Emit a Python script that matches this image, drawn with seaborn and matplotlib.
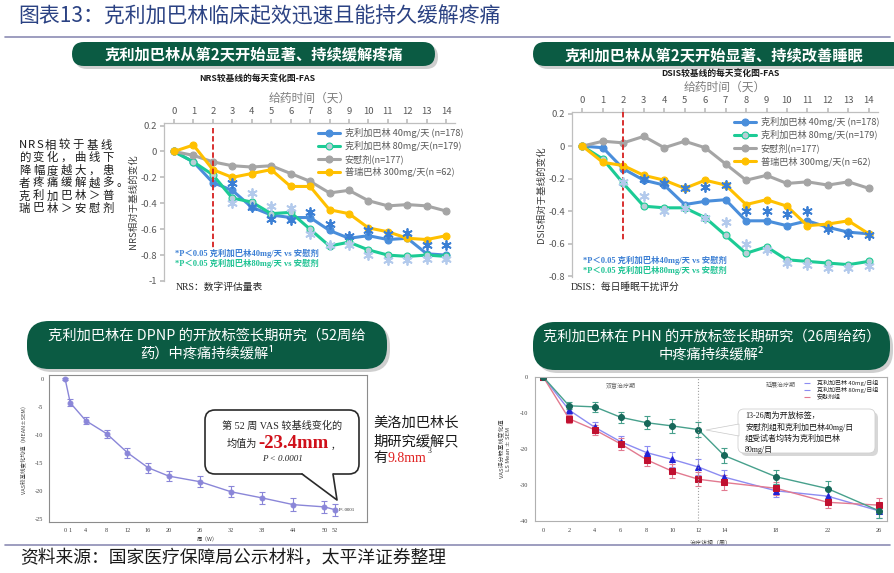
import matplotlib
matplotlib.use("Agg")
import matplotlib.pyplot as plt
from matplotlib.patches import FancyBboxPatch, Polygon
import pandas as pd
import seaborn as sns

# ---- 数据 ----
DAYS = list(range(15))
GROUPS = ["克利加巴林 40mg/天 (n=178)", "克利加巴林 80mg/天(n=179)",
          "安慰剂(n=177)", "普瑞巴林 300mg/天(n =62)"]

# NRS 较基线每天变化
NRS_40 = [0, -0.08, -0.24, -0.30, -0.43, -0.49, -0.51, -0.51, -0.61, -0.67, -0.65, -0.68, -0.67, -0.79, -0.80]
NRS_80 = [0, -0.08, -0.18, -0.36, -0.39, -0.48, -0.47, -0.60, -0.73, -0.70, -0.76, -0.80, -0.81, -0.80, -0.81]
NRS_PBO = [0, -0.03, -0.08, -0.11, -0.12, -0.11, -0.17, -0.23, -0.32, -0.30, -0.38, -0.42, -0.41, -0.42, -0.46]
NRS_PGB = [0, 0.05, -0.14, -0.20, -0.17, -0.14, -0.27, -0.27, -0.45, -0.48, -0.59, -0.62, -0.67, -0.68, -0.65]
NRS_STAR40_DAYS = [3, 4, 5, 6, 7, 8, 9, 10, 11, 12, 13, 14]
NRS_STAR40 = [-0.24, -0.43, -0.52, -0.53, -0.47, -0.56, -0.65, -0.61, -0.64, -0.63, -0.72, -0.72]
NRS_STAR80_DAYS = [3, 4, 5, 6, 7, 8, 9, 10, 11, 12, 13, 14]
NRS_STAR80 = [-0.40, -0.32, -0.42, -0.44, -0.64, -0.72, -0.72, -0.80, -0.84, -0.84, -0.83, -0.83]

# DSIS 较基线每天变化
DSIS_40 = [0, -0.01, -0.14, -0.21, -0.24, -0.36, -0.34, -0.33, -0.46, -0.46, -0.49, -0.46, -0.50, -0.53, -0.54]
DSIS_80 = [0, -0.08, -0.23, -0.37, -0.38, -0.38, -0.44, -0.55, -0.66, -0.62, -0.70, -0.71, -0.72, -0.73, -0.71]
DSIS_PBO = [0, 0.03, 0.02, 0.06, -0.01, 0.03, -0.01, -0.11, -0.21, -0.18, -0.23, -0.22, -0.24, -0.22, -0.26]
DSIS_PGB = [0, -0.10, -0.12, -0.18, -0.21, -0.26, -0.21, -0.24, -0.36, -0.33, -0.37, -0.49, -0.48, -0.46, -0.54]
DSIS_STAR40_DAYS = [3, 4, 5, 6, 7, 8, 9, 10, 11, 12, 13, 14]
DSIS_STAR40 = [-0.20, -0.23, -0.26, -0.25, -0.24, -0.40, -0.40, -0.42, -0.40, -0.51, -0.54, -0.55]
DSIS_STAR80_DAYS = [2, 3, 4, 5, 6, 7, 8, 9, 10, 11, 12, 13, 14]
DSIS_STAR80 = [-0.22, -0.31, -0.40, -0.38, -0.44, -0.47, -0.60, -0.64, -0.72, -0.73, -0.75, -0.75, -0.74]

# DPNP 52周开放标签
DPNP_WEEKS = [0, 1, 4, 8, 12, 16, 20, 26, 32, 38, 44, 50, 52]
DPNP_VAS = [0, -4.3, -7.5, -9.8, -13.2, -15.9, -17.4, -18.4, -20.2, -21.3, -22.5, -22.9, -23.4]
DPNP_SEM = [0.2, 0.6, 0.6, 0.7, 0.9, 0.9, 0.9, 1.0, 1.0, 1.0, 1.1, 1.1, 1.1]

# PHN 26周开放标签
PHN_WEEKS = [0, 2, 4, 6, 8, 10, 12, 14, 18, 22, 26]
PHN_40 = [0, -9.2, -14.0, -18.0, -21.0, -22.9, -25.0, -27.8, -31.6, -33.1, -37.2]
PHN_40_SEM = [0, 1.2, 1.5, 1.5, 1.8, 2.0, 2.2, 2.0, 1.8, 2.0, 2.0]
PHN_80 = [0, -11.6, -14.7, -18.6, -23.0, -26.2, -28.4, -29.3, -30.9, -34.8, -35.6]
PHN_80_SEM = [0, 1.1, 1.4, 1.6, 1.8, 1.9, 2.0, 2.0, 1.8, 1.7, 2.0]
PHN_PBO = [0, -8.0, -8.3, -11.2, -12.7, -13.6, -14.6, -21.8, -27.7, -31.0, -37.2]
PHN_PBO_SEM = [0, 1.0, 1.3, 1.6, 1.8, 1.9, 2.0, 2.2, 2.0, 2.0, 2.0]
PHN_GROUPS = ["克利加巴林 40mg/日组", "克利加巴林 80mg/日组", "安慰剂组"]

PALETTE = ["#4a8edb", "#1ccb95", "#a5a5a5", "#ffc000"]
CJK = ["Noto Sans CJK SC", "DejaVu Sans"]
SERIF = ["Liberation Serif", "Noto Sans CJK SC", "DejaVu Sans"]
GREEN = "#0b5b43"

W, H = 895, 573


def rect(l, t, r, b):
    return [l / W, 1 - b / H, (r - l) / W, (b - t) / H]


def daily_panel(ax, series, s40d, s40, s80d, s80, vspan, ylim, yticks, ylabel):
    df = pd.DataFrame({
        "day": DAYS * 4,
        "value": sum(series, []),
        "group": [g for g in GROUPS for _ in DAYS],
    })
    sns.lineplot(data=df, x="day", y="value", hue="group", hue_order=GROUPS,
                 palette=PALETTE, marker="o", markersize=5, linewidth=2.2,
                 legend=False, ax=ax)
    for ln in ax.lines[:4]:
        ln.set_markeredgecolor(ln.get_color())
        ln.set_markeredgewidth(0.8)
    ax.lines[1].set_markerfacecolor("#b8cfd6")
    ax.legend(ax.lines[:4], GROUPS, loc="upper left", bbox_to_anchor=(0.53, 0.97),
              frameon=False, fontsize=6.6, labelcolor="#595959", handlelength=2.4,
              labelspacing=0.35, borderaxespad=0, borderpad=0, handletextpad=0.5)
    ax.plot([2, 2], vspan, color="#d62020", ls=(0, (3, 1.5)), lw=1.3, zorder=5)
    ax.scatter(s40d, s40, marker=(6, 2, 0), s=42, color="#3b7fd4", linewidths=1.3, zorder=6)
    ax.scatter(s80d, s80, marker=(6, 2, 0), s=42, color="#b3caec", linewidths=1.3, zorder=6)
    ax.set_xlim(-0.51, 14.45)
    ax.set_ylim(*ylim)
    ax.set_xticks(DAYS)
    ax.set_yticks(yticks)
    ax.set_yticklabels([("%g" % v) for v in yticks])
    ax.xaxis.tick_top()
    ax.xaxis.set_label_position("top")
    ax.set_xlabel("给药时间（天）", fontsize=8.5, color="#7f7f7f", labelpad=4)
    ax.set_ylabel(ylabel, fontsize=6.8, color="#404040", labelpad=2)
    for s in ["right", "bottom"]:
        ax.spines[s].set_visible(False)
    for s in ["top", "left"]:
        ax.spines[s].set_color("#bfbfbf")
        ax.spines[s].set_linewidth(0.9)
    ax.tick_params(axis="x", top=True, bottom=False, length=3, color="#bfbfbf",
                   labelsize=6.8, labelcolor="#595959", pad=2)
    ax.tick_params(axis="y", left=True, length=3, color="#bfbfbf",
                   labelsize=6.8, labelcolor="#595959", pad=2)


sns.set_theme(style="white")
plt.rcParams["font.family"] = CJK
plt.rcParams["axes.unicode_minus"] = False

fig = plt.figure(figsize=(8.95, 5.73), dpi=100)

# ---- 图1：NRS ----
ax1 = fig.add_axes(rect(164, 123, 455, 281))
daily_panel(ax1, [NRS_40, NRS_80, NRS_PBO, NRS_PGB], NRS_STAR40_DAYS, NRS_STAR40,
            NRS_STAR80_DAYS, NRS_STAR80, [0.18, -0.75], (-1.0, 0.22),
            [0.2, 0, -0.2, -0.4, -0.6, -0.8, -1.0], "NRS相对于基线的变化")

# ---- 图2：DSIS ----
ax2 = fig.add_axes(rect(572, 112, 878, 277))
daily_panel(ax2, [DSIS_40, DSIS_80, DSIS_PBO, DSIS_PGB], DSIS_STAR40_DAYS, DSIS_STAR40,
            DSIS_STAR80_DAYS, DSIS_STAR80, [0.21, -0.58], (-0.806, 0.21),
            [0.2, 0, -0.2, -0.4, -0.6, -0.8], "DSIS相对于基线的变化")

# ---- 图3：DPNP 52周 ----
ax3 = fig.add_axes(rect(49, 375, 367, 522))
c3 = "#8a86d8"
ax3.errorbar(DPNP_WEEKS, DPNP_VAS, yerr=DPNP_SEM, fmt="none", ecolor=c3,
             elinewidth=0.8, capsize=2, capthick=0.8)
sns.lineplot(x=DPNP_WEEKS, y=DPNP_VAS, color=c3, marker="o", markersize=3.5,
             markeredgecolor=c3, linewidth=1, ax=ax3)
ax3.annotate("P<.0001", (DPNP_WEEKS[-1], DPNP_VAS[-1]), xytext=(3, 0),
             textcoords="offset points", fontsize=3.5, family=SERIF, va="center")
ax3.set_xlim(-3.1, 58.2)
ax3.set_ylim(-25.6, 0.67)
ax3.set_xticks(DPNP_WEEKS)
ax3.set_yticks([0, -5, -10, -15, -20, -25])
ax3.set_yticklabels(["0", "-5", "-10", "-15", "-20", "-25"])
ax3.set_xlabel("周（W）", fontsize=4, color="#404040", labelpad=3)
ax3.set_ylabel("VAS较基线变化均值（MEAN±SEM）", fontsize=4, color="#404040", labelpad=6)
for s in ax3.spines.values():
    s.set_color("#8c8c8c")
    s.set_linewidth(0.8)
ax3.tick_params(length=2, color="#8c8c8c", labelsize=4.5, labelcolor="#404040", pad=2)
for t in ax3.get_xticklabels() + ax3.get_yticklabels():
    t.set_family(SERIF)

# ---- 图4：PHN 26周 ----
ax4 = fig.add_axes(rect(535, 377, 887, 521))
phn = [
    (PHN_40, PHN_40_SEM, "#8c8cf2", "#2323d6", "^"),
    (PHN_80, PHN_80_SEM, "#e27a90", "#c01030", "s"),
    (PHN_PBO, PHN_PBO_SEM, "#47a08c", "#17685a", "o"),
]
for vals, sem, lc, mc, mk in phn:
    ax4.errorbar(PHN_WEEKS, vals, yerr=sem, fmt="none", ecolor=lc,
                 elinewidth=0.8, capsize=2, capthick=0.8)
for vals, sem, lc, mc, mk in phn:
    sns.lineplot(x=PHN_WEEKS, y=vals, color=lc, marker=mk, markersize=4.3,
                 markerfacecolor=mc, markeredgecolor=mc, linewidth=1, ax=ax4)
ax4.axvline(12, color="#a0a0a0", ls=":", lw=0.8)
ax4.legend(ax4.lines[:3], PHN_GROUPS, loc="upper left", bbox_to_anchor=(0.755, 0.98),
           frameon=False, fontsize=4.3, handlelength=2.2, labelspacing=0.15,
           borderaxespad=0, borderpad=0, handletextpad=0.5)
ax4.text(6, -3, "双盲治疗期", fontsize=4.3, color="#606060", ha="center", style="italic")
ax4.text(18.4, -3, "延展治疗期", fontsize=4.3, color="#606060", ha="center", style="italic")
ax4.set_xlim(-0.64, 26.6)
ax4.set_ylim(-40, 0)
ax4.set_xticks(PHN_WEEKS)
ax4.set_yticks([0, -10, -20, -30, -40])
ax4.set_yticklabels(["0", "-10", "-20", "-30", "-40"])
ax4.set_xlabel("治疗访视（周）", fontsize=4.3, color="#404040", labelpad=5)
ax4.set_ylabel("VAS评分较基线变化值\nLS Mean ± SEM", fontsize=4.3, color="#404040", labelpad=6)
for s in ax4.spines.values():
    s.set_color("#b0b0b0")
    s.set_linewidth(0.8)
ax4.tick_params(length=2, color="#909090", labelsize=4.5, labelcolor="#404040", pad=3)
for t in ax4.get_xticklabels() + ax4.get_yticklabels():
    t.set_family(SERIF)

# ---- 叠加层：标题、横幅、注释 ----
ov = fig.add_axes([0, 0, 1, 1])
ov.set_xlim(0, W)
ov.set_ylim(H, 0)
ov.axis("off")

ov.text(18, 16, "图表13：克利加巴林临床起效迅速且能持久缓解疼痛", fontsize=15,
        color="#2b4283", va="center")
ov.plot([5, 890], [37, 37], color="#8c8cb4", lw=1.2)
ov.plot([5, 890], [545, 545], color="#8c8cb4", lw=1.2)
ov.text(20, 558, "资料来源：国家医疗保障局公示材料，太平洋证券整理", fontsize=12.8,
        color="#1a1a1a", va="center")


def banner(l, t, r, b, rad, lines, size, weight, ys):
    ov.add_patch(FancyBboxPatch((l + 3, t + 3), r - l, b - t,
                                boxstyle="round,pad=0,rounding_size=%d" % rad,
                                fc="#a8a8a8", ec="none", alpha=0.55))
    ov.add_patch(FancyBboxPatch((l, t), r - l, b - t,
                                boxstyle="round,pad=0,rounding_size=%d" % rad,
                                fc=GREEN, ec="none"))
    cx = (l + min(r, W)) / 2
    for txt, y in zip(lines, ys):
        ov.text(cx, y, txt, color="white", fontsize=size, fontweight=weight,
                ha="center", va="center")


banner(72, 42, 435, 66, 12, ["克利加巴林从第2天开始显著、持续缓解疼痛"], 11, "bold", [54])
banner(533, 42, 905, 66, 12, ["克利加巴林从第2天开始显著、持续改善睡眠"], 11, "bold", [55])
banner(27, 321, 387, 369, 22, ["克利加巴林在 DPNP 的开放标签长期研究（52周给",
                               "药）中疼痛持续缓解¹"], 10.3, "normal", [336, 353])
banner(533, 322, 890, 370, 22, ["克利加巴林在 PHN 的开放标签长期研究（26周给药）",
                                "中疼痛持续缓解²"], 10.3, "normal", [337, 354])

# 小标题
ov.text(257, 78, "NRS较基线的每天变化图-FAS", fontsize=6.3, fontweight="bold",
        ha="center", va="center", color="#1a1a1a")
ov.text(720, 73, "DSIS较基线的每天变化图-FAS", fontsize=6.3, fontweight="bold",
        ha="center", va="center", color="#1a1a1a")

# 显著性说明
ov.text(175, 253, "*P＜0.05 克利加巴林40mg/天 vs 安慰剂", fontsize=6, fontweight="bold",
        color="#3b7fd4", family=SERIF, va="center")
ov.text(175, 263, "*P＜0.05 克利加巴林80mg/天 vs 安慰剂", fontsize=6, fontweight="bold",
        color="#1fc394", family=SERIF, va="center")
ov.text(583, 260, "*P＜0.05 克利加巴林40mg/天 vs 安慰剂", fontsize=6, fontweight="bold",
        color="#3b7fd4", family=SERIF, va="center")
ov.text(583, 270, "*P＜0.05 克利加巴林80mg/天 vs 安慰剂", fontsize=6, fontweight="bold",
        color="#1fc394", family=SERIF, va="center")
ov.text(176, 287, "NRS：数字评估量表", fontsize=7, family=SERIF, va="center")
ov.text(571, 287, "DSIS：每日睡眠干扰评分", fontsize=7, family=SERIF, va="center")

# 左侧说明（字间距较宽，逐字排布）
left_lines = ["NRS相较于基线", "的变化，曲线下", "降幅度越大，患",
              "者疼痛缓解越多。", "克利加巴林＞普", "瑞巴林＞安慰剂"]
for i, txt in enumerate(left_lines):
    x = 19
    for ch in txt:
        ov.text(x, 145 + i * 12.7, ch, fontsize=8.2, va="center", color="#1a1a1a")
        x += 8.6 if ch.isascii() else 13.9

# 图3 气泡框
ov.add_patch(FancyBboxPatch((205, 410), 154, 64, boxstyle="round,pad=0,rounding_size=10",
                            fc="white", ec="#2a2a2a", lw=1.2, zorder=5))
ov.add_patch(Polygon([(302, 473), (333, 473), (337, 500)], closed=True,
                     fc="white", ec="none", zorder=6))
ov.plot([302, 337, 333], [474, 500, 474], color="#2a2a2a", lw=1.2, zorder=7)
ov.text(282, 426, "第 52 周 VAS 较基线变化的", fontsize=7.3, family=SERIF,
        ha="center", va="center", zorder=8)
ov.text(257, 444, "均值为", fontsize=7.3, ha="right", va="center", zorder=8)
ov.text(258, 443, "-23.4mm", fontsize=13.5, family=SERIF, fontweight="bold",
        color="#d0101a", ha="left", va="center", zorder=8)
ov.text(331, 446, "，", fontsize=7, ha="left", va="center", zorder=8)
ov.text(282, 459, "P < 0.0001", fontsize=6.5, family=SERIF, style="italic",
        ha="center", va="center", zorder=8)

# 图3 右侧说明
ov.text(373, 423, "美洛加巴林长", fontsize=10.3, va="center", color="#1a1a1a")
ov.text(373, 441, "期研究缓解只", fontsize=10.3, va="center", color="#1a1a1a")
ov.text(373, 458, "有", fontsize=10.3, va="center", color="#1a1a1a")
ov.text(388, 459, "9.8mm", fontsize=10, va="center", color="#e02020", family=SERIF)
ov.text(428, 451, "3", fontsize=5.5, va="center", color="#1a1a1a", family=SERIF)

# 图4 说明框
ov.add_patch(FancyBboxPatch((741, 412), 137, 44, boxstyle="round,pad=0,rounding_size=6",
                            fc="#bdbdbd", ec="none", alpha=0.6, zorder=4))
ov.add_patch(FancyBboxPatch((738, 409), 137, 44, boxstyle="round,pad=0,rounding_size=6",
                            fc="white", ec="#d0d0d0", lw=0.6, zorder=5))
ov.add_patch(Polygon([(739, 424), (739, 436), (706, 430)], closed=True,
                     fc="white", ec="#c8c8c8", lw=0.5, zorder=6))
note4 = ["13-26周为开放标签，", "安慰剂组和克利加巴林40mg/日",
         "组受试者均转为克利加巴林", "80mg/日"]
for i, txt in enumerate(note4):
    ov.text(745, 416 + i * 11.2, txt, fontsize=5.8, family=SERIF, va="center",
            color="#1a1a1a", zorder=8)

fig.savefig("out.png", dpi=100)
